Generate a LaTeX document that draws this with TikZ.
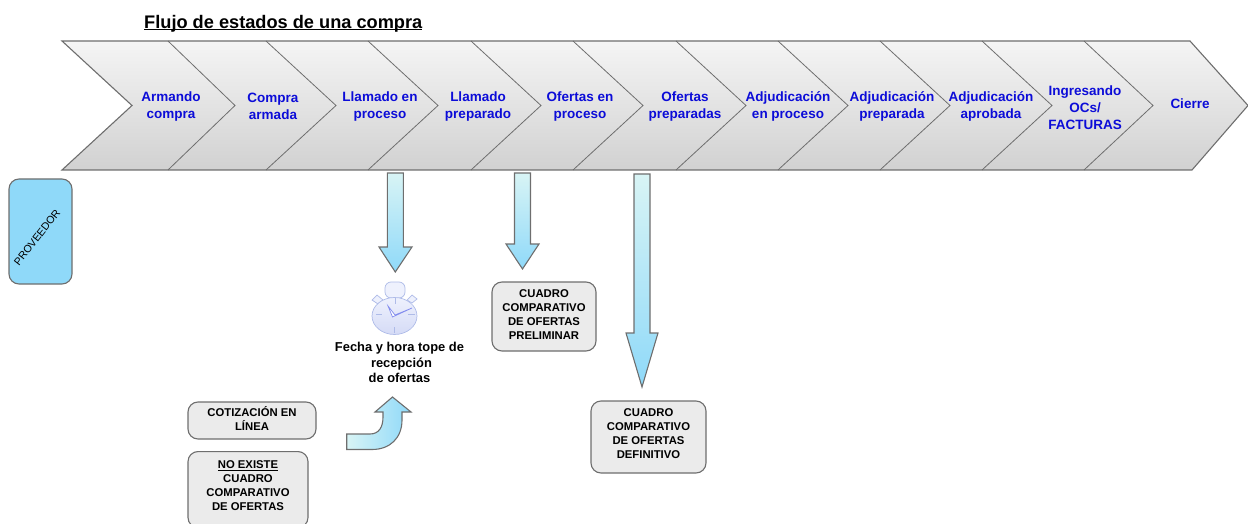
\documentclass[tikz,border=0pt]{standalone}
\usepackage{fontspec}
\setmainfont{Liberation Sans}
\definecolor{edge}{HTML}{6E6E6E}
\definecolor{stateblue}{HTML}{0C0CD8}
\definecolor{boxgray}{HTML}{EBEBEB}
\definecolor{skyfill}{HTML}{8FD9F9}
\definecolor{palecyan}{HTML}{D8F4F5}
\definecolor{clockline}{HTML}{AEBBE8}
\definecolor{clocktop}{HTML}{EEF1FD}
\definecolor{clockbot}{HTML}{D5DBF6}
\newcommand{\ulfixed}[1]{\setbox0=\hbox{#1}\rlap{\rule[-1.9pt]{\wd0}{1.1pt}}\box0 }
\tikzset{
  x=1pt,y=-1pt,
  statetext/.style={text=stateblue,align=center,inner sep=0pt,font=\fontsize{13.5}{17}\selectfont\bfseries},
  notebox/.style={draw=edge,line width=1.1pt,fill=boxgray,rounded corners=10pt,inner sep=0pt},
  notetext/.style={inner sep=0pt,align=center,text=black,font=\fontsize{11.3}{14}\selectfont\bfseries},
  flowarrow/.style={draw=edge,line width=1.1pt,line join=miter,top color=palecyan,bottom color=skyfill},
  clockpart/.style={draw=clockline,line width=.7pt},
}
\begin{document}
\begin{tikzpicture}
\useasboundingbox (0,0) rectangle (1248,524);
\clip (0,0) rectangle (1248,524);
% chevron band
\path[top color=white!96!black,bottom color=black!18,draw=none]
  (62,41) -- (1190,41) -- (1248,105.5) -- (1192,170) -- (62,170) -- (132,105.5) -- cycle;
\foreach \a/\t in {168/235,266/336,368/438,471/541,573/643,676/746,778/848,880/950,982/1052,1084/1153}
  \draw[edge,line width=.8pt] (\a,41) -- (\t,105.5) -- (\a,170);
\draw[edge,line width=1.1pt,line join=miter]
  (62,41) -- (1190,41) -- (1248,105.5) -- (1192,170) -- (62,170) -- (132,105.5) -- cycle;
% title
\node[inner sep=0pt,anchor=base west,font=\fontsize{18.2}{20}\selectfont\bfseries] (title) at (144,28.3) {\ulfixed{Flujo de estados de una compra}};
% states
\node[statetext] (s1) at (171,106.5) {Armando\\compra};
\node[statetext] (s2) at (273,106.5) {Compra\\armada};
\node[statetext] (s3) at (380,106.5) {Llamado en\\proceso};
\node[statetext] (s4) at (478,106.5) {Llamado\\preparado};
\node[statetext] (s5) at (580,106.5) {Ofertas en\\proceso};
\node[statetext] (s6) at (685,106.5) {Ofertas\\preparadas};
\node[statetext] (s7) at (788,106.5) {Adjudicación\\en proceso};
\node[statetext] (s8) at (892,106.5) {Adjudicación\\preparada};
\node[statetext] (s9) at (991,106.5) {Adjudicación\\aprobada};
\node[statetext] (s10) at (1085,108) {Ingresando\\OCs/\\FACTURAS};
\node[statetext] (s11) at (1190,104) {Cierre};
% proveedor
\node[draw=edge,line width=1.1pt,fill=skyfill,rounded corners=10pt,minimum width=63,minimum height=105,inner sep=0pt] (prov) at (40.5,231.5) {};
\node[rotate=52,inner sep=0pt,font=\fontsize{10.6}{14}\selectfont] (provt) at (37,237.5) {PROVEEDOR};
% down arrows
\path[flowarrow]
  (387.3,173) -- (403.3,173) -- (403.3,247) -- (412,247) -- (395.3,272) -- (379,247) -- (387.3,247) -- cycle;
\path[flowarrow]
  (514.5,173) -- (530.5,173) -- (530.5,244) -- (539,244) -- (522.5,269) -- (506,244) -- (514.5,244) -- cycle;
\path[flowarrow]
  (634,174) -- (650,174) -- (650,333) -- (658,333) -- (642,387) -- (626,333) -- (634,333) -- cycle;
% clock
\draw[clockpart,fill=clocktop,rounded corners=6pt] (385,282) rectangle (405,298);
\draw[clockpart,fill=clocktop] (372,300) -- (377,295) -- (383,300) -- (378,304) -- cycle;
\draw[clockpart,fill=clocktop] (407,300) -- (412,295) -- (417,299) -- (412,303) -- cycle;
\draw[clockpart,top color=clocktop,bottom color=clockbot] (394.5,316) ellipse [x radius=22.5,y radius=18.5];
\draw[clockline,line width=1pt] (395,298) -- (395,304) (394,327) -- (394,333) (376,314.5) -- (382,314.5) (408,314.5) -- (415,314.5);
\draw[draw=clockline!75!blue,line width=.7pt,fill=white] (388,306) -- (392.5,317) -- (412,308) -- (395,315) -- cycle;
\node[inner sep=0pt,align=center,font=\fontsize{12.9}{15.5}\selectfont\bfseries] (fecha) at (399.5,362.5) {Fecha y hora tope de\\\hspace*{4pt}recepción\\de ofertas};
% boxes
\node[notebox,minimum width=104,minimum height=69] (prelim) at (544,316.5) {};
\node[notetext] (prelimt) at (544,314.3) {CUADRO\\COMPARATIVO\\DE OFERTAS\\PRELIMINAR};
\node[notebox,minimum width=115,minimum height=72] (defin) at (648.5,437) {};
\node[notetext] (defint) at (648.5,434) {CUADRO\\COMPARATIVO\\DE OFERTAS\\DEFINITIVO};
\node[notebox,minimum width=128,minimum height=37] (cotiz) at (252,420.5) {};
\node[notetext] (cotizt) at (252,418.5) {COTIZACIÓN EN\\LÍNEA};
\node[notebox,minimum width=120,minimum height=76,anchor=north] (noex) at (248,451) {};
\node[notetext] (noext) at (248,486) {\ulfixed{NO EXISTE}\\CUADRO\\COMPARATIVO\\DE OFERTAS};
% bent arrow
\path[draw=edge,line width=1.1pt,line join=miter,left color=palecyan,right color=skyfill]
  (346.7,434) -- (370,434) .. controls (379,434) and (383,427) .. (383,417) -- (383,412) -- (375,412) -- (392.5,397) -- (411,412) -- (402,412) -- (402,420) .. controls (402,438) and (390,449.5) .. (372,449.5) -- (346.7,449.5) -- cycle;
\end{tikzpicture}
\end{document}
